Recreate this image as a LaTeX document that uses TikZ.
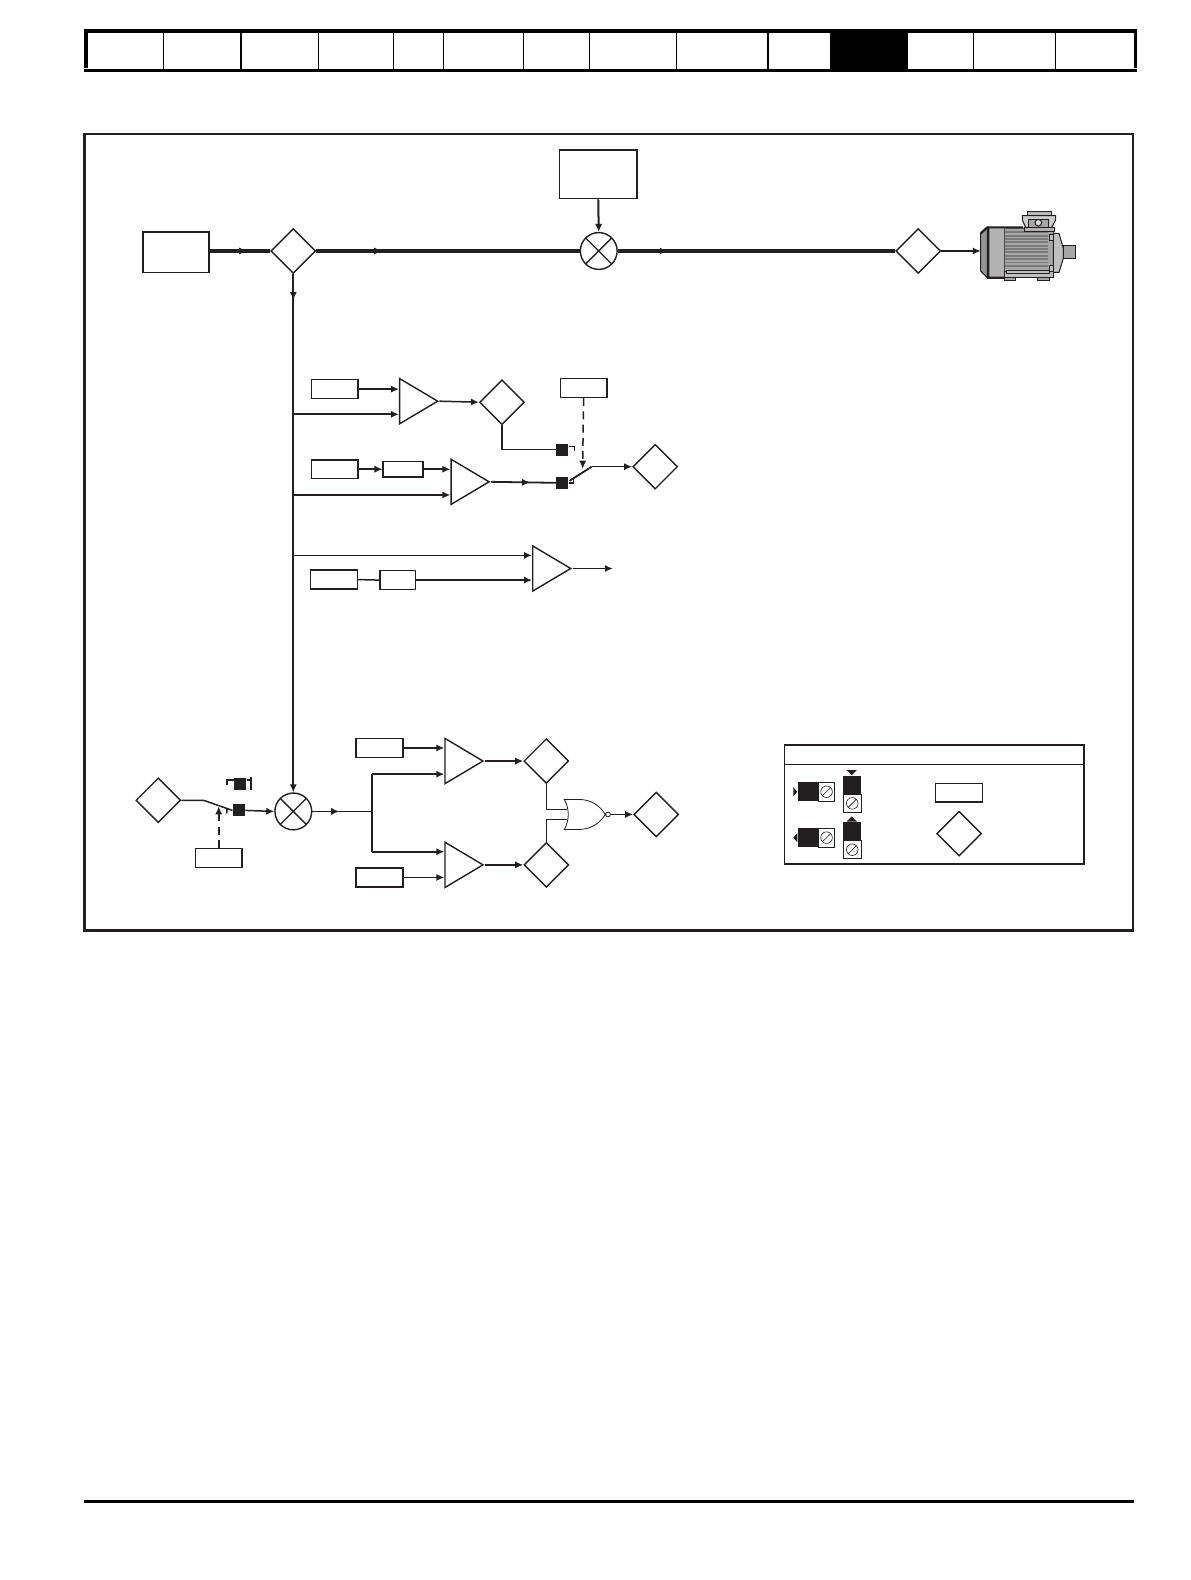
\documentclass[tikz,border=0pt]{standalone}
\usepackage{xcolor}
\usetikzlibrary{arrows.meta,shapes.geometric,shapes.gates.logic.US,decorations.markings}
\definecolor{ink}{HTML}{231F20}
\tikzset{
  heavy/.style={line width=1.7pt, draw=ink},
  sig/.style={line width=0.75pt, draw=ink},
  sigto/.style={sig, -{Latex[length=4pt,width=3.6pt]}},
  dashsig/.style={sigto, dash pattern=on 4pt off 2.6pt},
  midtip/.style={postaction={decorate}, decoration={markings, mark=at position #1 with {\arrow{Latex[length=4pt,width=3.6pt]}}}},
  boxn/.style={draw=ink, line width=0.7pt, fill=white, inner sep=0pt, minimum width=23.4pt, minimum height=9.4pt},
  dia/.style={diamond, draw=ink, line width=0.7pt, fill=white, inner sep=0pt, minimum width=22.4pt, minimum height=22.4pt},
  sumj/.style={circle, draw=ink, line width=0.7pt, fill=white, inner sep=0pt, minimum size=18.4pt,
    path picture={\draw[ink, line width=0.7pt] (path picture bounding box.north west) -- (path picture bounding box.south east)
      (path picture bounding box.north east) -- (path picture bounding box.south west);}},
  amp/.style={isosceles triangle, isosceles triangle stretches, shape border rotate=0, draw=ink, line width=0.7pt, fill=white,
    inner sep=0pt, minimum height=19pt, minimum width=22.6pt, anchor=apex},
  blk/.style={rectangle, fill=ink, inner sep=0pt, minimum size=6pt},
  trim/.style={rectangle, draw=ink, line width=0.5pt, fill=white, inner sep=0pt, minimum width=#1,
    path picture={\draw[ink, line width=0.3pt] (path picture bounding box.center) circle (2.9pt)
      ++(-2pt,-2pt) -- ++(4pt,4pt);}}
}
\begin{document}
\begin{tikzpicture}[x=0.504pt,y=-0.504pt]
  \useasboundingbox (0,0) rectangle (1180.6,1567.5);

  % page tabs
  \fill[black] (823,30) rectangle (901,68);
  \draw[line width=0.6pt,black] (162,31) -- (162,68) (239,31) -- (239,68) (316,31) -- (316,68) (390,31) -- (390,68)
    (440,31) -- (440,68) (519,31) -- (519,68) (585,31) -- (585,68) (671,31) -- (671,68) (762,31) -- (762,68)
    (966,31) -- (966,68) (1047,31) -- (1047,68);
  \fill[black] (83,29) rectangle (1128,33);
  \fill[black] (83,29) rectangle (87,67);
  \fill[black] (1125,29) rectangle (1128,67);
  \fill[black] (83,68) rectangle (1128,71);
  \fill[black] (83,1488.5) rectangle (1125,1491.5);

  \draw[line width=1.4pt,ink] (84,133) rectangle (1124,923);

  % drive line
  \node[boxn, minimum width=38.8pt, minimum height=24.2pt] (topbox) at (593.5,173) {};
  \node[boxn, minimum width=33pt, minimum height=20.2pt] (srcbox) at (174.5,250) {};
  \node[dia] (diaA) at (291,249) {};
  \node[sumj] (sumA) at (594,249) {};
  \node[dia] (diaB) at (911,249) {};
  \coordinate (motor) at (973,249);

  \draw[heavy, midtip=0.62] (srcbox.east |- diaA) -- (diaA.west);
  \draw[heavy, midtip=0.25] (diaA.east) -- (sumA.west);
  \draw[heavy, midtip=0.18] (sumA.east) -- (diaB.west);
  \draw[sigto, line width=1pt] (diaB.east) -- (motor);
  \draw[sigto, line width=1pt] (topbox.south) -- (sumA.north);

  % motor
  \begin{scope}[shift={(952.4,193.5)}, x=0.1667pt, y=-0.1667pt, line width=0.5pt]
    \draw[ink, fill=black!42] (62,115) -- (82,97) -- (82,248) -- (62,228) -- cycle;
    \draw[ink, fill=black!30] (82,97) rectangle (133,248);
    \draw[ink, line width=1.1pt] (62,115) -- (82,97) -- (190,97) (85,97) -- (85,248) (82,248) -- (133,248);
    \draw[black!70, fill=black!35] (133,100) rectangle (280,228);
    \foreach \yfin in {112,122,132,142,152,162,172,182,192,202,212}
      \draw[black!52, line width=0.9pt] (136,\yfin) -- (265,\yfin);
    \draw[ink, fill=black!25] (133,228) rectangle (280,248);
    \draw[ink, fill=black!25] (140,226) rectangle (268,236);
    \draw[ink, fill=black!35] (133,248) rectangle (167,256) (232,248) rectangle (268,256);
    \draw[ink, fill=black!25] (280,115) -- (297,115) -- (310,160) -- (310,190) -- (297,232) -- (280,232) -- cycle;
    \draw[ink, fill=black!35] (310,152) rectangle (347,190);
    \draw[ink, fill=black!25] (268,118) rectangle (280,135) (268,212) rectangle (280,228);
    \draw[ink, fill=black!30] (193,97) rectangle (282,108);
    \draw[ink, fill=black!20] (187,62) -- (287,62) -- (287,75) -- (275,97) -- (197,97) -- (187,75) -- cycle;
    \draw[ink, fill=black!28] (202,48) rectangle (275,62);
    \draw[ink, fill=black!35] (206,72) rectangle (266,97);
    \draw[ink, fill=black!15] (235,83) circle (10);
  \end{scope}

  % first comparator
  \node[boxn] (boxB) at (332,386) {};
  \node[amp] (ampB) at (436,398) {};
  \node[dia] (diaC) at (498,399) {};
  \node[boxn] (boxC) at (579,385) {};
  \node[blk] (blkC) at (558,446) {};
  \coordinate (tickC) at (570,443);
  \coordinate (tapB) at (291,411);
  \draw[sigto] (boxB.east) -- (boxB.east -| ampB.lower side);
  \draw[sigto, line width=0.9pt] (tapB) -- (tapB -| ampB.lower side);
  \draw[sigto] (ampB.apex) -- (diaC.west);
  \draw[sig, line width=0.9pt] (diaC.south) |- (blkC.west);
  \draw[sig] (blkC.east |- tickC) -- (tickC) -- ++(0,4.5);

  % second comparator
  \node[boxn] (boxD) at (332,465.5) {};
  \node[boxn, minimum width=20pt, minimum height=7.6pt] (boxE) at (400,465.5) {};
  \node[amp] (ampD) at (487,478) {};
  \node[blk] (blkD) at (558,479) {};
  \node[dia] (diaD) at (650,463) {};
  \coordinate (tapD) at (291,491);
  \coordinate (bladeD) at (587,463);
  \coordinate (bladeE) at (569,474);
  \coordinate (bladeF) at (565,477);
  \draw[sigto] (boxD.east) -- (boxE.west);
  \draw[sigto] (boxE.east) -- (boxE.east -| ampD.lower side);
  \draw[sigto, line width=0.9pt] (tapD) -- (tapD -| ampD.lower side);
  \draw[sig, line width=0.9pt, midtip=0.6] (ampD.apex) -- (blkD.west);
  \draw[sig] (blkD.east) -- (bladeE |- blkD) -- (bladeE);
  \draw[sig, line width=0.9pt] (bladeF) -- (bladeD);
  \draw[sigto] (bladeD) -- (diaD.west);
  \coordinate (dashC) at (578,465);
  \draw[dashsig] (boxC.south) -- (dashC);

  % third comparator
  \node[amp] (ampF) at (568,564) {};
  \node[boxn] (boxF) at (331.5,575) {};
  \node[boxn, minimum width=17.6pt] (boxG) at (394.5,575.5) {};
  \coordinate (ampFout) at (608,564);
  \coordinate (tapF) at (291,551);
  \draw[sigto, line width=0.9pt] (tapF) -- (tapF -| ampF.lower side);
  \draw[sig] (boxF.east) -- (boxG.west);
  \draw[sigto] (boxG.east) -- (boxG.east -| ampF.lower side);
  \draw[sigto] (ampF.apex) -- (ampFout);

  % lower part
  \node[sumj] (sumB) at (291,805) {};
  \draw[sigto, line width=0.9pt, midtip=0.05] (diaA.south) -- (sumB.north);
  \node[dia] (diaE) at (157,794) {};
  \node[blk] (blkE) at (237,804) {};
  \node[blk] (blkF) at (238.5,778) {};
  \node[boxn] (boxH) at (217,851) {};
  \coordinate (bladeG) at (202,794);
  \coordinate (bladeH) at (225,802);
  \coordinate (bladeI) at (217,800);
  \coordinate (tickF) at (225,774);
  \coordinate (tickG) at (249,774);
  \draw[sig] (diaE.east) -- (bladeG) -- (bladeH);
  \draw[sig] (bladeH) -- (blkE.west) (bladeH) -- ++(0,5);
  \draw[sig] (blkF.west |- tickF) -- (tickF) -- ++(0,5);
  \draw[sig] (blkF.east |- tickG) -- (tickG) ++(0,-3) -- ++(0,13);
  \draw[sigto] (blkE.east) -- (sumB.west);
  \draw[dashsig, line width=0.9pt] (boxH.north) -- (bladeI);

  \coordinate (fork) at (369,805);
  \coordinate (forkU) at (369,768);
  \coordinate (forkL) at (369,845);
  \node[boxn] (boxI) at (376.5,742) {};
  \node[amp] (ampI) at (481,755) {};
  \node[dia] (diaI) at (542,755) {};
  \node[boxn] (boxJ) at (376.5,870.5) {};
  \node[amp] (ampJ) at (481,858) {};
  \node[dia] (diaJ) at (542,858) {};
  \node[nor gate US, logic gate inputs=nn, draw=ink, line width=0.4pt, fill=white, inner sep=0pt,
    logic gate inverted radius=1.2pt, minimum width=13.4pt, minimum height=15pt, anchor=output] (norg) at (606,808) {};
  \node[dia] (diaK) at (651,808) {};
  \draw[sig, line width=0.9pt, midtip=0.45] (sumB.east) -- (fork);
  \draw[sig, line width=0.9pt] (forkU) -- (forkL);
  \draw[sigto, line width=0.9pt] (forkU) -- (forkU -| ampI.lower side);
  \draw[sigto, line width=0.9pt] (forkL) -- (forkL -| ampJ.lower side);
  \draw[sigto] (boxI.east) -- (boxI.east -| ampI.lower side);
  \draw[sigto] (boxJ.east) -- (boxJ.east -| ampJ.lower side);
  \draw[sigto] (ampI.apex) -- (diaI.west);
  \draw[sigto] (ampJ.apex) -- (diaJ.west);
  \draw[sig, line width=0.5pt] (diaI.south) |- (norg.input 1);
  \draw[sig] (diaJ.north) |- (norg.input 2);
  \draw[sigto] (norg.output) -- (diaK.west);

  % key
  \node[rectangle, draw=ink, line width=0.9pt, inner sep=0pt, minimum width=150pt, minimum height=59.4pt] (keybox) at (927,798) {};
  \coordinate (keyline) at (927,758.5);
  \draw[sig] (keyline -| keybox.west) -- (keyline -| keybox.east);
  \node[blk, minimum width=10.4pt, minimum height=9.6pt] (keyA) at (802,785.5) {};
  \node[trim=8pt, minimum height=9.4pt] (trimA) at (820,785.5) {};
  \node[blk, minimum width=10.4pt, minimum height=9.6pt] (keyB) at (802,831) {};
  \node[trim=8pt, minimum height=9.4pt] (trimB) at (820,831) {};
  \node[blk, minimum width=8.8pt, minimum height=9.6pt] (keyC) at (845.5,779) {};
  \node[trim=8.8pt, minimum height=9pt] (trimC) at (845.5,797) {};
  \node[blk, minimum width=8.8pt, minimum height=9.6pt] (keyD) at (845.5,825) {};
  \node[trim=8.8pt, minimum height=9pt] (trimD) at (845.5,843) {};
  \fill[ink] (787,781) -- (791,785.5) -- (787,790) -- cycle;
  \fill[ink] (791,826.5) -- (787,831) -- (791,835.5) -- cycle;
  \fill[ink] (840,764) -- (850,764) -- (845,769) -- cycle;
  \fill[ink] (840,815) -- (850,815) -- (845,810) -- cycle;
  \node[boxn] (keyC2) at (951.5,786.5) {};
  \node[dia] (keyD2) at (951.5,827) {};
\end{tikzpicture}
\end{document}
